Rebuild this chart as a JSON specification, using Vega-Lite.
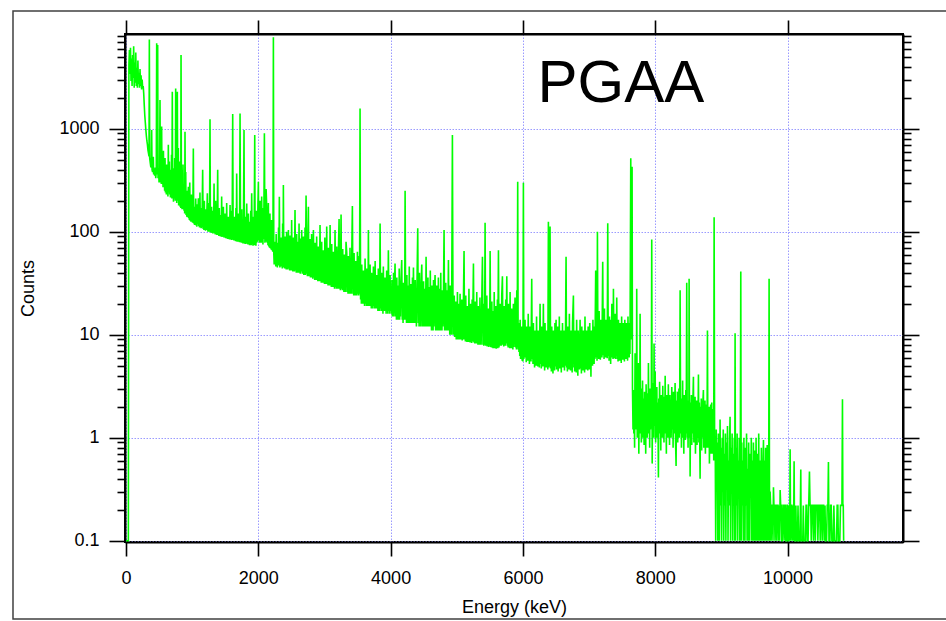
{
"$schema": "https://vega.github.io/schema/vega-lite/v6.json",
"width": 778,
"height": 508,
"autosize": {"type": "none"},
"padding": {"left": 125, "top": 34, "right": 43, "bottom": 79},
"background": "white",
"config": {
  "view": {"stroke": "black", "strokeWidth": 2},
  "axis": {
    "labelFont": "Liberation Sans", "titleFont": "Liberation Sans",
    "labelFontSize": 18, "titleFontSize": 18, "titleFontWeight": "normal",
    "labelColor": "black", "titleColor": "black",
    "tickColor": "black", "tickWidth": 1.6,
    "domainColor": "black", "domainWidth": 2,
    "gridColor": "#9a9aff", "gridDash": [1.5, 1.5], "gridWidth": 1,
    "labelFlush": false, "labelOverlap": false
  }
},
"resolve": {"axis": {"x": "independent", "y": "independent"}},
"layer": [
  {
    "data": {"values": [
{"e":0,"c":0.1},{"e":36,"c":0.1},{"e":44,"c":4200},{"e":52,"c":5800},{"e":60,"c":3400},{"e":68,"c":6100},{"e":76,"c":2900},{"e":84,"c":4800},{"e":92,"c":2600},{"e":100,"c":5200},{"e":108,"c":3100},{"e":116,"c":6300},{"e":124,"c":2500},{"e":132,"c":4400},{"e":140,"c":2800},{"e":148,"c":5500},{"e":156,"c":2600},{"e":164,"c":3900},{"e":172,"c":2500},{"e":180,"c":4600},{"e":188,"c":2700},{"e":196,"c":3500},{"e":204,"c":2500},{"e":212,"c":3800},{"e":220,"c":2600},{"e":228,"c":3300},{"e":236,"c":2400},{"e":244,"c":3000},{"e":252,"c":2500},{"e":260,"c":2600},{"e":268,"c":2200},{"e":276,"c":1700},{"e":284,"c":1350},{"e":292,"c":1150},{"e":300,"c":980},{"e":308,"c":850},{"e":316,"c":760},{"e":324,"c":700},{"e":332,"c":620},{"e":340,"c":580},{"e":348,"c":540},{"e":353,"c":7360},{"e":358,"c":520},{"e":366,"c":470},{"e":374,"c":430},{"e":382,"c":420},{"e":388,"c":970},{"e":394,"c":400},{"e":402,"c":380},{"e":410,"c":420},{"e":413,"c":535},{"e":418,"c":360},{"e":426,"c":400},{"e":434,"c":350},{"e":442,"c":420},{"e":450,"c":330},{"e":458,"c":390},{"e":464,"c":6740},{"e":470,"c":360},{"e":476,"c":420},{"e":479,"c":6490},{"e":484,"c":330},{"e":492,"c":400},{"e":500,"c":300},{"e":508,"c":380},{"e":514,"c":1900},{"e":520,"c":300},{"e":528,"c":350},{"e":534,"c":290},{"e":539,"c":1050},
{"e":544,"c":300},{"e":552,"c":420},{"e":560,"c":270},{"e":566,"c":610},{"e":572,"c":300},{"e":578,"c":380},{"e":584,"c":250},{"e":590,"c":520},{"e":596,"c":240},{"e":604,"c":350},{"e":610,"c":230},{"e":616,"c":450},{"e":622,"c":260},{"e":628,"c":330},{"e":634,"c":220},{"e":640,"c":700},{"e":646,"c":240},{"e":650,"c":320},{"e":655,"c":480},{"e":660,"c":230},{"e":665,"c":400},{"e":672,"c":215},{"e":678,"c":330},{"e":684,"c":250},{"e":688,"c":560},{"e":694,"c":210},{"e":700,"c":2290},{"e":706,"c":220},{"e":712,"c":340},{"e":718,"c":195},{"e":726,"c":412},{"e":732,"c":210},{"e":736,"c":520},{"e":741,"c":230},{"e":746,"c":200},{"e":751,"c":2460},{"e":756,"c":220},{"e":762,"c":600},{"e":767,"c":190},{"e":771,"c":300},{"e":776,"c":2290},{"e":782,"c":200},{"e":786,"c":330},{"e":791,"c":650},{"e":796,"c":180},{"e":801,"c":383},{"e":808,"c":190},{"e":812,"c":480},{"e":818,"c":175},{"e":824,"c":260},{"e":828,"c":170},{"e":832,"c":5190},{"e":838,"c":180},{"e":842,"c":300},{"e":847,"c":165},{"e":852,"c":400},{"e":858,"c":170},{"e":862,"c":450},{"e":867,"c":165},{"e":872,"c":240},{"e":877,"c":160},{"e":882,"c":260},{"e":887,"c":150},{"e":892,"c":935},{"e":898,"c":150},{"e":903,"c":380},{"e":908,"c":145},{"e":914,"c":210},{"e":919,"c":140},{"e":924,"c":250},{"e":930,"c":138},{"e":936,"c":200},{"e":943,"c":273},{"e":948,"c":135},{"e":953,"c":210},{"e":958,"c":130},{"e":964,"c":300},{"e":970,"c":128},{"e":976,"c":180},{"e":982,"c":125},{"e":988,"c":230},{"e":994,"c":128},{"e":1000,"c":170},{"e":1006,"c":122},{"e":1012,"c":190},{"e":1018,"c":644},
{"e":1024,"c":120},{"e":1030,"c":175},{"e":1036,"c":116},{"e":1042,"c":150},{"e":1048,"c":122},{"e":1054,"c":210},{"e":1060,"c":115},{"e":1066,"c":160},{"e":1072,"c":112},{"e":1078,"c":185},{"e":1084,"c":118},{"e":1094,"c":211},{"e":1100,"c":113},{"e":1106,"c":150},{"e":1112,"c":110},{"e":1118,"c":240},{"e":1124,"c":112},{"e":1130,"c":145},{"e":1136,"c":108},{"e":1142,"c":170},{"e":1148,"c":110},{"e":1159,"c":400},{"e":1166,"c":106},{"e":1172,"c":150},{"e":1178,"c":104},{"e":1184,"c":200},{"e":1190,"c":108},{"e":1196,"c":140},{"e":1202,"c":102},{"e":1208,"c":165},{"e":1214,"c":104},{"e":1220,"c":135},{"e":1230,"c":236},{"e":1238,"c":100},{"e":1244,"c":150},{"e":1250,"c":103},{"e":1256,"c":190},{"e":1262,"c":100},{"e":1270,"c":1233},{"e":1276,"c":98},{"e":1282,"c":140},{"e":1288,"c":100},{"e":1294,"c":175},{"e":1300,"c":97},{"e":1306,"c":130},{"e":1312,"c":96},{"e":1318,"c":160},{"e":1324,"c":99},{"e":1331,"c":294},{"e":1338,"c":96},{"e":1344,"c":130},{"e":1350,"c":94},{"e":1356,"c":200},{"e":1362,"c":96},{"e":1368,"c":128},{"e":1374,"c":93},{"e":1380,"c":150},{"e":1386,"c":400},{"e":1392,"c":93},{"e":1398,"c":125},{"e":1404,"c":91},{"e":1410,"c":170},{"e":1416,"c":92},{"e":1422,"c":120},{"e":1428,"c":90},{"e":1434,"c":145},{"e":1440,"c":92},{"e":1446,"c":220},{"e":1452,"c":89},{"e":1458,"c":125},{"e":1464,"c":90},{"e":1472,"c":175},{"e":1480,"c":88},{"e":1486,"c":120},{"e":1492,"c":89},{"e":1498,"c":150},{"e":1504,"c":87},{"e":1510,"c":118},{"e":1516,"c":86},{"e":1522,"c":190},{"e":1528,"c":88},{"e":1534,"c":115},{"e":1540,"c":85},{"e":1546,"c":140},{"e":1552,"c":86},{"e":1558,"c":120},{"e":1564,"c":84},{"e":1573,"c":182},{"e":1580,"c":85},{"e":1586,"c":115},{"e":1592,"c":83},{"e":1598,"c":160},{"e":1604,"c":84},{"e":1613,"c":1387},{"e":1620,"c":83},{"e":1626,"c":118},{"e":1632,"c":82},{"e":1638,"c":140},{"e":1644,"c":83},{"e":1650,"c":112},{"e":1656,"c":81},{"e":1662,"c":170},{"e":1668,"c":82},{"e":1673,"c":368},{"e":1680,"c":80},{"e":1686,"c":110},{"e":1692,"c":81},{"e":1698,"c":150},{"e":1704,"c":80},{"e":1710,"c":108},{"e":1716,"c":79},{"e":1724,"c":1408},{"e":1732,"c":79},{"e":1738,"c":112},{"e":1744,"c":78},{"e":1750,"c":165},{"e":1756,"c":79},{"e":1762,"c":106},{"e":1768,"c":77},{"e":1776,"c":130},{"e":1784,"c":970},{"e":1790,"c":77},{"e":1796,"c":104},{"e":1802,"c":76},{"e":1808,"c":140},{"e":1814,"c":77},{"e":1825,"c":188},{"e":1832,"c":76},{"e":1838,"c":105},{"e":1844,"c":75},{"e":1850,"c":150},{"e":1856,"c":76},{"e":1862,"c":102},{"e":1868,"c":74},{"e":1874,"c":125},{"e":1880,"c":75},{"e":1886,"c":160},{"e":1892,"c":74},{"e":1900,"c":236},{"e":1908,"c":75},{"e":1914,"c":100},{"e":1920,"c":73},{"e":1926,"c":140},{"e":1932,"c":74},{"e":1938,"c":105},{"e":1946,"c":869},{"e":1952,"c":74},{"e":1958,"c":110},{"e":1964,"c":73},{"e":1970,"c":160},{"e":1976,"c":78},{"e":1982,"c":120},{"e":1988,"c":80},{"e":1994,"c":180},{"e":2001,"c":305},{"e":2008,"c":82},{"e":2014,"c":130},{"e":2020,"c":78},{"e":2026,"c":200},{"e":2032,"c":84},{"e":2038,"c":125},{"e":2044,"c":78},{"e":2051,"c":219},{"e":2058,"c":80},{"e":2064,"c":135},{"e":2070,"c":75},{"e":2076,"c":170},{"e":2082,"c":85},{"e":2092,"c":902},{"e":2100,"c":78},{"e":2106,"c":150},{"e":2112,"c":80},{"e":2118,"c":260},{"e":2127,"c":175},{"e":2134,"c":78},{"e":2140,"c":130},{"e":2146,"c":74},{"e":2152,"c":190},{"e":2158,"c":72},{"e":2164,"c":120},{"e":2170,"c":70},{"e":2176,"c":150},{"e":2182,"c":69},{"e":2188,"c":110},{"e":2194,"c":67},{"e":2200,"c":130},{"e":2206,"c":66},{"e":2212,"c":100},{"e":2218,"c":64},{"e":2222,"c":90},{"e":2228,"c":7710},
{"e":2234,"c":62},{"e":2240,"c":48},{"e":2246,"c":80},{"e":2252,"c":50},{"e":2258,"c":66},{"e":2264,"c":46},{"e":2270,"c":95},{"e":2276,"c":49},{"e":2282,"c":72},{"e":2288,"c":45},{"e":2294,"c":78},{"e":2300,"c":48},{"e":2306,"c":110},{"e":2312,"c":47},{"e":2318,"c":219},{"e":2326,"c":45},{"e":2332,"c":70},{"e":2338,"c":48},{"e":2344,"c":88},{"e":2350,"c":46},{"e":2356,"c":74},{"e":2362,"c":44},{"e":2368,"c":120},{"e":2374,"c":47},{"e":2379,"c":284},{"e":2386,"c":45},{"e":2392,"c":72},{"e":2398,"c":44},{"e":2404,"c":90},{"e":2410,"c":46},{"e":2416,"c":70},{"e":2422,"c":43},{"e":2428,"c":100},{"e":2434,"c":45},{"e":2440,"c":68},{"e":2446,"c":43},{"e":2455,"c":104},{"e":2462,"c":44},{"e":2468,"c":76},{"e":2474,"c":42},{"e":2480,"c":92},{"e":2486,"c":45},{"e":2492,"c":66},{"e":2498,"c":42},{"e":2504,"c":130},{"e":2510,"c":44},{"e":2516,"c":74},{"e":2522,"c":41},{"e":2528,"c":88},{"e":2534,"c":43},{"e":2540,"c":66},{"e":2546,"c":41},{"e":2555,"c":162},{"e":2562,"c":42},{"e":2568,"c":70},{"e":2574,"c":40},{"e":2580,"c":95},{"e":2586,"c":43},{"e":2592,"c":66},{"e":2598,"c":40},{"e":2604,"c":80},{"e":2610,"c":41},{"e":2616,"c":120},{"e":2622,"c":40},{"e":2628,"c":68},{"e":2634,"c":39},{"e":2640,"c":86},{"e":2646,"c":41},{"e":2656,"c":104},{"e":2664,"c":39},{"e":2670,"c":64},{"e":2676,"c":40},{"e":2682,"c":90},{"e":2688,"c":38},{"e":2694,"c":66},{"e":2700,"c":39},{"e":2706,"c":110},{"e":2712,"c":38},{"e":2722,"c":224},{"e":2730,"c":39},{"e":2736,"c":64},{"e":2742,"c":37},{"e":2748,"c":80},{"e":2757,"c":175},{"e":2764,"c":37},{"e":2770,"c":62},{"e":2776,"c":38},{"e":2782,"c":85},{"e":2788,"c":36},{"e":2794,"c":60},{"e":2800,"c":37},{"e":2806,"c":95},{"e":2812,"c":36},{"e":2818,"c":62},{"e":2824,"c":35},{"e":2833,"c":104},{"e":2840,"c":36},{"e":2846,"c":60},{"e":2852,"c":34},{"e":2858,"c":78},{"e":2864,"c":35},{"e":2870,"c":58},{"e":2876,"c":34},{"e":2882,"c":90},{"e":2888,"c":35},{"e":2894,"c":60},{"e":2900,"c":33},{"e":2906,"c":72},{"e":2912,"c":34},{"e":2918,"c":58},{"e":2924,"c":33},{"e":2933,"c":116},{"e":2940,"c":33},{"e":2946,"c":56},{"e":2952,"c":32},{"e":2958,"c":80},{"e":2964,"c":34},{"e":2970,"c":56},{"e":2976,"c":32},{"e":2982,"c":66},{"e":2988,"c":33},{"e":2994,"c":55},{"e":3000,"c":31},{"e":3006,"c":88},{"e":3012,"c":32},{"e":3018,"c":56},{"e":3024,"c":31},{"e":3034,"c":112},{"e":3042,"c":31},{"e":3048,"c":54},{"e":3054,"c":30},{"e":3060,"c":70},{"e":3066,"c":32},{"e":3072,"c":54},{"e":3078,"c":30},{"e":3085,"c":116},{"e":3092,"c":30},{"e":3098,"c":52},{"e":3104,"c":29},{"e":3110,"c":76},{"e":3116,"c":31},{"e":3122,"c":53},{"e":3128,"c":29},{"e":3134,"c":64},{"e":3140,"c":30},{"e":3146,"c":52},{"e":3152,"c":28},{"e":3160,"c":104},{"e":3168,"c":29},{"e":3174,"c":52},{"e":3180,"c":28},{"e":3186,"c":72},{"e":3192,"c":29},{"e":3198,"c":50},{"e":3204,"c":28},{"e":3210,"c":60},{"e":3221,"c":133},{"e":3228,"c":28},{"e":3234,"c":52},{"e":3240,"c":27},{"e":3251,"c":147},{"e":3258,"c":28},{"e":3264,"c":50},{"e":3270,"c":27},{"e":3276,"c":68},{"e":3282,"c":28},{"e":3288,"c":49},{"e":3294,"c":26},{"e":3300,"c":60},{"e":3306,"c":27},{"e":3312,"c":48},{"e":3318,"c":26},{"e":3326,"c":80},{"e":3337,"c":62},{"e":3344,"c":26},{"e":3350,"c":47},{"e":3356,"c":25},{"e":3362,"c":58},{"e":3368,"c":27},{"e":3374,"c":46},{"e":3380,"c":25},{"e":3386,"c":70},{"e":3392,"c":26},{"e":3398,"c":46},{"e":3404,"c":25},{"e":3412,"c":55},{"e":3422,"c":178},{"e":3430,"c":25},{"e":3436,"c":46},{"e":3442,"c":24},{"e":3448,"c":62},{"e":3454,"c":26},{"e":3460,"c":45},{"e":3466,"c":24},{"e":3472,"c":52},{"e":3478,"c":25},{"e":3484,"c":44},{"e":3490,"c":24},{"e":3498,"c":64},{"e":3506,"c":25},{"e":3512,"c":44},{"e":3518,"c":24},{"e":3524,"c":58},{"e":3530,"c":25},{"e":3538,"c":1575},
{"e":3546,"c":22},{"e":3552,"c":36},{"e":3558,"c":20},{"e":3564,"c":48},{"e":3570,"c":22},{"e":3576,"c":36},{"e":3582,"c":20},{"e":3588,"c":42},{"e":3594,"c":21},{"e":3600,"c":35},{"e":3606,"c":19},{"e":3614,"c":55},{"e":3622,"c":20},{"e":3628,"c":36},{"e":3634,"c":19},{"e":3640,"c":44},{"e":3646,"c":21},{"e":3652,"c":34},{"e":3658,"c":19},{"e":3664,"c":104},{"e":3672,"c":19},{"e":3678,"c":35},{"e":3684,"c":20},{"e":3690,"c":48},{"e":3696,"c":19},{"e":3702,"c":34},{"e":3708,"c":18},{"e":3714,"c":40},{"e":3720,"c":20},{"e":3726,"c":33},{"e":3732,"c":18},{"e":3740,"c":46},{"e":3748,"c":19},{"e":3754,"c":34},{"e":3760,"c":18},{"e":3766,"c":52},{"e":3772,"c":19},{"e":3778,"c":33},{"e":3784,"c":18},{"e":3790,"c":38},{"e":3796,"c":19},{"e":3802,"c":32},{"e":3808,"c":17},{"e":3814,"c":44},{"e":3820,"c":19},{"e":3826,"c":33},{"e":3832,"c":17},{"e":3841,"c":120},{"e":3848,"c":18},{"e":3854,"c":33},{"e":3860,"c":17},{"e":3866,"c":40},{"e":3872,"c":18},{"e":3878,"c":32},{"e":3884,"c":16},{"e":3890,"c":46},{"e":3896,"c":18},{"e":3902,"c":31},{"e":3908,"c":17},{"e":3914,"c":36},{"e":3920,"c":18},{"e":3926,"c":31},{"e":3932,"c":16},{"e":3940,"c":42},{"e":3946,"c":17},{"e":3952,"c":30},{"e":3958,"c":16},{"e":3966,"c":66},{"e":3974,"c":17},{"e":3980,"c":31},{"e":3986,"c":16},{"e":3992,"c":38},{"e":4000,"c":17},
{"e":4008,"c":29},{"e":4014,"c":16},{"e":4020,"c":34},{"e":4026,"c":15},{"e":4032,"c":27},{"e":4038,"c":16},{"e":4044,"c":40},{"e":4050,"c":15},{"e":4056,"c":26},{"e":4067,"c":49},{"e":4076,"c":15},{"e":4082,"c":28},{"e":4088,"c":14},{"e":4094,"c":36},{"e":4100,"c":15},{"e":4106,"c":26},{"e":4112,"c":14},{"e":4118,"c":30},{"e":4124,"c":15},{"e":4130,"c":44},{"e":4136,"c":14},{"e":4142,"c":27},{"e":4148,"c":15},{"e":4156,"c":33},{"e":4168,"c":53},{"e":4176,"c":14},{"e":4182,"c":26},{"e":4188,"c":13},{"e":4194,"c":32},{"e":4200,"c":15},{"e":4206,"c":25},{"e":4212,"c":14},{"e":4219,"c":250},{"e":4228,"c":14},{"e":4234,"c":27},{"e":4240,"c":13},{"e":4246,"c":38},{"e":4252,"c":14},{"e":4258,"c":25},{"e":4264,"c":13},{"e":4270,"c":30},{"e":4276,"c":14},{"e":4282,"c":46},{"e":4288,"c":13},{"e":4294,"c":26},{"e":4300,"c":14},{"e":4306,"c":31},{"e":4312,"c":13},{"e":4318,"c":24},{"e":4324,"c":14},{"e":4330,"c":36},{"e":4336,"c":13},{"e":4345,"c":45},{"e":4354,"c":13},{"e":4360,"c":25},{"e":4366,"c":14},{"e":4372,"c":34},{"e":4378,"c":13},{"e":4384,"c":24},{"e":4390,"c":12},{"e":4398,"c":29},{"e":4410,"c":108},{"e":4418,"c":13},{"e":4424,"c":25},{"e":4430,"c":12},{"e":4436,"c":40},{"e":4442,"c":13},{"e":4448,"c":24},{"e":4454,"c":12},{"e":4460,"c":30},{"e":4471,"c":48},{"e":4480,"c":12},{"e":4486,"c":24},{"e":4492,"c":13},{"e":4498,"c":33},{"e":4504,"c":12},{"e":4510,"c":23},{"e":4516,"c":13},{"e":4522,"c":28},{"e":4528,"c":12},{"e":4536,"c":57},{"e":4546,"c":12},{"e":4552,"c":24},{"e":4558,"c":12},{"e":4564,"c":36},{"e":4570,"c":13},{"e":4576,"c":23},{"e":4582,"c":12},{"e":4588,"c":29},{"e":4594,"c":12},{"e":4600,"c":42},{"e":4606,"c":12},{"e":4612,"c":23},{"e":4618,"c":11},{"e":4624,"c":30},{"e":4630,"c":12},{"e":4636,"c":24},{"e":4642,"c":11},{"e":4648,"c":34},{"e":4654,"c":12},{"e":4660,"c":23},{"e":4672,"c":38},{"e":4680,"c":11},{"e":4686,"c":24},{"e":4692,"c":12},{"e":4698,"c":30},{"e":4704,"c":11},{"e":4710,"c":23},{"e":4716,"c":12},{"e":4722,"c":36},{"e":4728,"c":11},{"e":4734,"c":22},{"e":4740,"c":12},{"e":4746,"c":28},{"e":4752,"c":11},{"e":4758,"c":40},{"e":4764,"c":12},{"e":4770,"c":22},{"e":4776,"c":11},{"e":4782,"c":27},{"e":4790,"c":12},{"e":4798,"c":22},{"e":4808,"c":104},{"e":4816,"c":11},{"e":4822,"c":23},{"e":4828,"c":11},{"e":4834,"c":32},{"e":4840,"c":11},{"e":4846,"c":22},{"e":4852,"c":12},{"e":4858,"c":27},{"e":4864,"c":11},{"e":4874,"c":53},{"e":4882,"c":11},{"e":4888,"c":22},{"e":4894,"c":10},{"e":4900,"c":30},{"e":4906,"c":11},{"e":4912,"c":21},{"e":4918,"c":10},{"e":4924,"c":26},{"e":4934,"c":869},{"e":4944,"c":10},
{"e":4950,"c":19},{"e":4956,"c":10},{"e":4962,"c":24},{"e":4968,"c":9.5},{"e":4974,"c":18},{"e":4980,"c":10},{"e":4986,"c":21},{"e":4992,"c":9},{"e":4998,"c":17},{"e":5004,"c":9.5},{"e":5010,"c":26},{"e":5016,"c":9},{"e":5022,"c":18},{"e":5028,"c":9.5},{"e":5034,"c":20},{"e":5040,"c":9},{"e":5050,"c":25},{"e":5058,"c":9},{"e":5064,"c":17},{"e":5070,"c":9.5},{"e":5076,"c":22},{"e":5082,"c":8.8},{"e":5088,"c":17},{"e":5094,"c":9},{"e":5100,"c":20},{"e":5110,"c":65},{"e":5118,"c":9},{"e":5124,"c":17},{"e":5130,"c":8.6},{"e":5136,"c":24},{"e":5142,"c":9},{"e":5148,"c":16},{"e":5154,"c":8.5},{"e":5160,"c":19},{"e":5166,"c":9},{"e":5172,"c":16},{"e":5178,"c":8.5},{"e":5184,"c":28},{"e":5190,"c":8.8},{"e":5196,"c":16},{"e":5202,"c":8.4},{"e":5208,"c":20},{"e":5214,"c":9},{"e":5220,"c":16},{"e":5226,"c":8.3},{"e":5232,"c":22},{"e":5238,"c":8.6},{"e":5252,"c":49},{"e":5260,"c":8.4},{"e":5266,"c":16},{"e":5272,"c":8.2},{"e":5278,"c":21},{"e":5284,"c":8.6},{"e":5290,"c":15},{"e":5296,"c":8.2},{"e":5302,"c":26},{"e":5308,"c":8.4},{"e":5314,"c":15},{"e":5320,"c":8},{"e":5326,"c":19},{"e":5332,"c":8.5},{"e":5338,"c":15},{"e":5344,"c":8},{"e":5350,"c":23},{"e":5356,"c":8.3},{"e":5362,"c":15},{"e":5368,"c":8},{"e":5376,"c":18},{"e":5388,"c":57},{"e":5396,"c":8},{"e":5402,"c":15},{"e":5408,"c":7.8},{"e":5414,"c":20},{"e":5420,"c":8},{"e":5428,"c":122},{"e":5436,"c":7.8},{"e":5442,"c":15},{"e":5448,"c":8},{"e":5454,"c":24},{"e":5460,"c":7.7},{"e":5466,"c":15},{"e":5472,"c":8},{"e":5478,"c":18},{"e":5484,"c":7.6},{"e":5490,"c":15},{"e":5496,"c":7.8},{"e":5504,"c":65},{"e":5512,"c":7.6},{"e":5518,"c":15},{"e":5524,"c":7.5},{"e":5530,"c":21},{"e":5536,"c":7.8},{"e":5542,"c":14},{"e":5548,"c":7.4},{"e":5554,"c":17},{"e":5560,"c":7.6},{"e":5566,"c":26},{"e":5572,"c":7.4},{"e":5578,"c":14},{"e":5584,"c":7.5},{"e":5590,"c":19},{"e":5596,"c":7.3},{"e":5602,"c":14},{"e":5608,"c":7.6},{"e":5614,"c":22},{"e":5620,"c":7.4},{"e":5630,"c":66},{"e":5638,"c":7.5},{"e":5644,"c":15},{"e":5650,"c":7.8},{"e":5656,"c":20},{"e":5662,"c":8},{"e":5668,"c":16},{"e":5674,"c":7.8},{"e":5680,"c":24},{"e":5690,"c":37},{"e":5698,"c":8},{"e":5704,"c":16},{"e":5710,"c":7.7},{"e":5716,"c":19},{"e":5722,"c":8},{"e":5728,"c":15},{"e":5734,"c":7.8},{"e":5740,"c":22},{"e":5746,"c":8.2},{"e":5756,"c":37},{"e":5764,"c":7.8},{"e":5770,"c":15},{"e":5776,"c":7.5},{"e":5782,"c":20},{"e":5788,"c":7.8},{"e":5794,"c":16},{"e":5800,"c":7.4},{"e":5806,"c":26},{"e":5812,"c":7.8},{"e":5818,"c":15},{"e":5824,"c":7.4},{"e":5830,"c":18},{"e":5836,"c":7.6},{"e":5842,"c":14},{"e":5848,"c":7.2},{"e":5856,"c":20},{"e":5864,"c":7.6},{"e":5872,"c":14},{"e":5881,"c":23},{"e":5890,"c":7.5},{"e":5896,"c":14},{"e":5902,"c":7.2},{"e":5907,"c":27},{"e":5914,"c":7.5},{"e":5921,"c":306},{"e":5928,"c":7.2},{"e":5934,"c":13},{"e":5940,"c":6.8},{"e":5946,"c":12},{"e":5952,"c":6.2},{"e":5958,"c":14},{"e":5964,"c":5.8},{"e":5970,"c":10},{"e":5976,"c":6},{"e":5982,"c":12},{"e":5988,"c":5.6},{"e":5994,"c":10},{"e":6000,"c":5.5},{"e":6007,"c":299},
{"e":6014,"c":5.8},{"e":6020,"c":11},{"e":6026,"c":6.4},{"e":6032,"c":14},{"e":6038,"c":6},{"e":6044,"c":10},{"e":6050,"c":5.4},{"e":6056,"c":12},{"e":6062,"c":6.2},{"e":6068,"c":9.5},{"e":6074,"c":5.6},{"e":6080,"c":16},{"e":6086,"c":6},{"e":6092,"c":10},{"e":6098,"c":5.2},{"e":6104,"c":12},{"e":6110,"c":6},{"e":6116,"c":9},{"e":6122,"c":5.5},{"e":6133,"c":35},{"e":6140,"c":5.8},{"e":6146,"c":10},{"e":6152,"c":5.2},{"e":6158,"c":13},{"e":6164,"c":5.6},{"e":6170,"c":9},{"e":6176,"c":4.8},{"e":6182,"c":11},{"e":6188,"c":5.6},{"e":6194,"c":9.5},{"e":6200,"c":5},{"e":6206,"c":15},{"e":6212,"c":5.4},{"e":6218,"c":9},{"e":6224,"c":4.9},{"e":6230,"c":11},{"e":6236,"c":5.5},{"e":6242,"c":9},{"e":6248,"c":4.8},{"e":6259,"c":20},{"e":6266,"c":5.2},{"e":6272,"c":9.5},{"e":6278,"c":4.7},{"e":6284,"c":12},{"e":6290,"c":5.3},{"e":6296,"c":9},{"e":6302,"c":4.9},{"e":6309,"c":20},{"e":6316,"c":5},{"e":6322,"c":10},{"e":6328,"c":4.5},{"e":6334,"c":13},{"e":6340,"c":5.2},{"e":6346,"c":9},{"e":6352,"c":4.8},{"e":6358,"c":11},{"e":6364,"c":5.3},{"e":6370,"c":9},{"e":6376,"c":4.6},{"e":6385,"c":125},{"e":6392,"c":4.8},{"e":6398,"c":10},{"e":6404,"c":5},{"e":6410,"c":112},{"e":6418,"c":4.7},{"e":6424,"c":9},{"e":6430,"c":4.4},{"e":6436,"c":12},{"e":6442,"c":5},{"e":6448,"c":9},{"e":6454,"c":4.2},{"e":6460,"c":11},{"e":6466,"c":5},{"e":6472,"c":9.5},{"e":6478,"c":4.5},{"e":6484,"c":13},{"e":6490,"c":4.9},{"e":6501,"c":14},{"e":6508,"c":4.6},{"e":6514,"c":9},{"e":6520,"c":5},{"e":6526,"c":12},{"e":6532,"c":4.4},{"e":6538,"c":9.5},{"e":6544,"c":5.1},{"e":6550,"c":15},{"e":6556,"c":4.7},{"e":6562,"c":9},{"e":6568,"c":5},{"e":6574,"c":11},{"e":6580,"c":4.3},{"e":6586,"c":10},{"e":6592,"c":5},{"e":6598,"c":13},{"e":6604,"c":4.8},{"e":6610,"c":9.5},{"e":6616,"c":5.2},{"e":6622,"c":11},{"e":6628,"c":4.5},{"e":6634,"c":9},{"e":6640,"c":5},{"e":6652,"c":57},{"e":6660,"c":4.8},{"e":6666,"c":10},{"e":6672,"c":4.4},{"e":6678,"c":12},{"e":6684,"c":5},{"e":6690,"c":9},{"e":6696,"c":4.6},{"e":6702,"c":16},{"e":6708,"c":5},{"e":6714,"c":9.5},{"e":6720,"c":4.5},{"e":6726,"c":11},{"e":6732,"c":5.1},{"e":6738,"c":9},{"e":6744,"c":4.3},{"e":6750,"c":13},{"e":6763,"c":24},{"e":6770,"c":4.8},{"e":6776,"c":9.5},{"e":6782,"c":4.4},{"e":6788,"c":11},{"e":6794,"c":5},{"e":6800,"c":9},{"e":6806,"c":4.3},{"e":6812,"c":14},{"e":6818,"c":4.9},{"e":6824,"c":9},{"e":6830,"c":4},{"e":6836,"c":11},{"e":6842,"c":5},{"e":6848,"c":9.5},{"e":6854,"c":4.6},{"e":6864,"c":14},{"e":6872,"c":4.7},{"e":6878,"c":9.5},{"e":6884,"c":4.2},{"e":6890,"c":12},{"e":6896,"c":5},{"e":6902,"c":9},{"e":6908,"c":4.5},{"e":6914,"c":11},{"e":6920,"c":5},{"e":6926,"c":9.5},{"e":6932,"c":4.3},{"e":6938,"c":15},{"e":6944,"c":4.9},{"e":6950,"c":9.5},{"e":6956,"c":4.6},{"e":6962,"c":11},{"e":6968,"c":5},{"e":6974,"c":9},{"e":6980,"c":4.5},{"e":6986,"c":12},{"e":6992,"c":5.2},{"e":6998,"c":10},{"e":7004,"c":4.6},{"e":7010,"c":13},{"e":7016,"c":5.3},{"e":7022,"c":10},{"e":7028,"c":3.9},{"e":7034,"c":11},{"e":7040,"c":5.4},{"e":7046,"c":10},{"e":7052,"c":5},{"e":7058,"c":14},{"e":7064,"c":5.6},{"e":7070,"c":11},{"e":7076,"c":5.2},{"e":7082,"c":12},{"e":7088,"c":5.8},{"e":7094,"c":16},{"e":7100,"c":42},{"e":7108,"c":6},{"e":7114,"c":12},{"e":7120,"c":5.6},{"e":7126,"c":100},{"e":7134,"c":6},{"e":7140,"c":13},{"e":7146,"c":5.8},{"e":7152,"c":17},{"e":7158,"c":6.4},{"e":7164,"c":12},{"e":7170,"c":5.7},{"e":7176,"c":14},{"e":7182,"c":6.5},{"e":7188,"c":12},{"e":7194,"c":6},{"e":7206,"c":51},{"e":7214,"c":6.3},{"e":7220,"c":13},{"e":7226,"c":5.8},{"e":7232,"c":18},{"e":7238,"c":6.5},{"e":7244,"c":12},{"e":7250,"c":6},{"e":7256,"c":14},{"e":7262,"c":6.6},{"e":7268,"c":12},{"e":7274,"c":5.9},{"e":7282,"c":121},{"e":7290,"c":6.2},{"e":7296,"c":13},{"e":7302,"c":5.6},{"e":7308,"c":15},{"e":7314,"c":6.3},{"e":7320,"c":12},{"e":7326,"c":5.2},{"e":7332,"c":14},{"e":7338,"c":6.2},{"e":7344,"c":20},{"e":7350,"c":6},{"e":7356,"c":12},{"e":7362,"c":5.8},{"e":7368,"c":28},{"e":7376,"c":5.9},{"e":7382,"c":12},{"e":7388,"c":6.3},{"e":7394,"c":16},{"e":7400,"c":5.8},{"e":7406,"c":12},{"e":7412,"c":6.2},{"e":7418,"c":23},{"e":7426,"c":5.8},{"e":7432,"c":12},{"e":7438,"c":5.5},{"e":7444,"c":14},{"e":7450,"c":6.2},{"e":7456,"c":11},{"e":7462,"c":5.6},{"e":7468,"c":13},{"e":7474,"c":6.1},{"e":7480,"c":11},{"e":7486,"c":5.3},{"e":7492,"c":15},{"e":7498,"c":6},{"e":7504,"c":11},{"e":7510,"c":5.7},{"e":7516,"c":13},{"e":7522,"c":6.2},{"e":7528,"c":11},{"e":7534,"c":5.5},{"e":7540,"c":14},{"e":7546,"c":6},{"e":7552,"c":11},{"e":7558,"c":5.8},{"e":7564,"c":13},{"e":7570,"c":6.3},{"e":7576,"c":11},{"e":7582,"c":5.6},{"e":7588,"c":15},{"e":7594,"c":6.2},{"e":7600,"c":11},{"e":7606,"c":6},{"e":7612,"c":13},{"e":7618,"c":6.5},{"e":7630,"c":516},{"e":7636,"c":9},{"e":7644,"c":12},{"e":7650,"c":428},{"e":7656,"c":3},{"e":7664,"c":1.2},
{"e":7670,"c":2.9},{"e":7676,"c":1.1},{"e":7682,"c":2.4},{"e":7688,"c":0.8},{"e":7695,"c":6.6},{"e":7702,"c":1.4},{"e":7708,"c":3.2},{"e":7714,"c":1.2},{"e":7720,"c":28},{"e":7728,"c":1.0},{"e":7734,"c":2.6},{"e":7740,"c":1.5},{"e":7745,"c":5.3},{"e":7752,"c":0.7},{"e":7758,"c":2.5},{"e":7764,"c":1.3},{"e":7771,"c":16},{"e":7778,"c":1.1},{"e":7784,"c":3.0},{"e":7790,"c":0.9},{"e":7796,"c":2.2},{"e":7802,"c":1.4},{"e":7808,"c":3.6},{"e":7814,"c":1.0},{"e":7820,"c":2.4},{"e":7826,"c":1.3},{"e":7832,"c":0.85},{"e":7838,"c":2.8},{"e":7844,"c":1.2},{"e":7850,"c":2.2},{"e":7856,"c":0.7},{"e":7862,"c":3.3},{"e":7868,"c":1.3},{"e":7874,"c":2.4},{"e":7880,"c":1.0},{"e":7886,"c":2.7},{"e":7892,"c":1.4},{"e":7897,"c":5.3},{"e":7904,"c":1.1},{"e":7910,"c":2.3},{"e":7916,"c":0.8},{"e":7922,"c":3.0},{"e":7928,"c":1.2},{"e":7934,"c":2.2},{"e":7940,"c":1.4},{"e":7947,"c":84},{"e":7954,"c":0.56},{"e":7960,"c":2.6},{"e":7966,"c":1.2},{"e":7972,"c":3.4},{"e":7978,"c":1.0},{"e":7982,"c":8.2},{"e":7988,"c":1.3},{"e":7994,"c":2.5},{"e":7999,"c":4.4},{"e":8006,"c":0.9},{"e":8012,"c":2.3},{"e":8018,"c":1.3},{"e":8024,"c":3.1},{"e":8030,"c":1.0},{"e":8036,"c":2.2},{"e":8042,"c":1.4},{"e":8048,"c":0.41},{"e":8054,"c":2.4},{"e":8060,"c":1.1},{"e":8066,"c":3.5},{"e":8072,"c":1.2},{"e":8078,"c":2.2},{"e":8084,"c":0.75},{"e":8090,"c":2.6},{"e":8096,"c":1.3},{"e":8102,"c":2.1},{"e":8108,"c":1.0},{"e":8114,"c":3.2},{"e":8120,"c":1.3},{"e":8126,"c":2.3},{"e":8132,"c":0.9},{"e":8138,"c":2.5},{"e":8144,"c":1.2},{"e":8150,"c":4.0},{"e":8156,"c":1.1},{"e":8162,"c":2.3},{"e":8168,"c":0.7},{"e":8174,"c":2.6},{"e":8180,"c":1.2},{"e":8186,"c":2.1},{"e":8192,"c":1.0},{"e":8198,"c":3.3},{"e":8204,"c":1.3},{"e":8210,"c":2.2},{"e":8216,"c":0.85},{"e":8222,"c":2.6},{"e":8228,"c":1.2},{"e":8234,"c":2.1},{"e":8240,"c":1.0},{"e":8250,"c":3.1},{"e":8258,"c":1.2},{"e":8264,"c":2.2},{"e":8270,"c":0.8},{"e":8276,"c":2.8},{"e":8282,"c":1.1},{"e":8288,"c":2.1},{"e":8294,"c":1.3},{"e":8300,"c":3.4},{"e":8306,"c":1.0},{"e":8315,"c":0.53},{"e":8322,"c":2.3},{"e":8328,"c":1.1},{"e":8334,"c":2.8},{"e":8340,"c":0.9},{"e":8346,"c":2.2},{"e":8352,"c":1.2},{"e":8358,"c":3.0},{"e":8364,"c":1.0},{"e":8370,"c":2.3},{"e":8376,"c":27},{"e":8384,"c":1.1},{"e":8390,"c":2.4},{"e":8396,"c":0.8},{"e":8402,"c":2.1},{"e":8408,"c":1.2},{"e":8414,"c":3.6},{"e":8420,"c":1.0},{"e":8426,"c":2.2},{"e":8432,"c":0.7},{"e":8438,"c":2.6},{"e":8444,"c":1.2},{"e":8450,"c":2.0},{"e":8456,"c":0.95},{"e":8462,"c":2.9},{"e":8468,"c":1.1},{"e":8476,"c":32},{"e":8484,"c":1.0},{"e":8490,"c":2.3},{"e":8496,"c":0.8},{"e":8502,"c":2.1},{"e":8508,"c":1.2},{"e":8512,"c":35},{"e":8518,"c":1.0},{"e":8524,"c":2.2},{"e":8527,"c":0.42},{"e":8534,"c":2.0},{"e":8540,"c":1.1},{"e":8546,"c":2.6},{"e":8552,"c":0.85},{"e":8558,"c":2.0},{"e":8564,"c":1.1},{"e":8570,"c":2.4},{"e":8577,"c":3.9},{"e":8584,"c":0.9},{"e":8590,"c":2.1},{"e":8596,"c":1.0},{"e":8602,"c":2.5},{"e":8608,"c":0.7},{"e":8614,"c":1.9},{"e":8620,"c":1.1},{"e":8626,"c":2.3},{"e":8632,"c":0.85},{"e":8638,"c":2.0},{"e":8644,"c":1.0},{"e":8653,"c":4.1},{"e":8660,"c":0.9},{"e":8666,"c":2.2},{"e":8672,"c":1.0},{"e":8678,"c":0.4},{"e":8684,"c":2.0},{"e":8690,"c":0.9},{"e":8696,"c":2.4},{"e":8702,"c":0.75},{"e":8708,"c":1.8},{"e":8714,"c":1.0},{"e":8720,"c":2.2},{"e":8728,"c":2.9},{"e":8734,"c":0.8},{"e":8740,"c":1.9},{"e":8746,"c":0.9},{"e":8752,"c":2.3},{"e":8758,"c":0.7},{"e":8764,"c":1.8},{"e":8770,"c":1.0},{"e":8776,"c":2.1},{"e":8782,"c":0.8},{"e":8789,"c":11},{"e":8796,"c":0.8},{"e":8802,"c":1.8},{"e":8808,"c":0.9},{"e":8814,"c":2.0},{"e":8819,"c":0.56},{"e":8826,"c":1.7},{"e":8832,"c":0.8},{"e":8838,"c":2.1},{"e":8844,"c":0.7},{"e":8850,"c":1.6},{"e":8854,"c":2.2},{"e":8860,"c":0.7},{"e":8866,"c":1.6},{"e":8872,"c":0.8},{"e":8878,"c":1.9},{"e":8884,"c":0.6},{"e":8890,"c":138},{"e":8898,"c":0.6},{"e":8906,"c":1.0},
{"e":8914,"c":0.1},{"e":8922,"c":1.2},{"e":8930,"c":0.3},{"e":8938,"c":0.9},{"e":8946,"c":0.1},{"e":8954,"c":1.1},{"e":8962,"c":0.45},{"e":8970,"c":0.1},{"e":8980,"c":1.5},{"e":8988,"c":0.22},{"e":8996,"c":0.8},{"e":9004,"c":0.1},{"e":9012,"c":1.0},{"e":9020,"c":0.35},{"e":9028,"c":1.2},{"e":9036,"c":0.1},{"e":9044,"c":0.7},{"e":9052,"c":0.22},{"e":9060,"c":1.1},{"e":9068,"c":0.1},{"e":9076,"c":0.9},{"e":9084,"c":0.4},{"e":9092,"c":1.3},{"e":9100,"c":0.1},{"e":9108,"c":0.6},{"e":9116,"c":0.22},{"e":9124,"c":1.0},{"e":9131,"c":1.6},{"e":9138,"c":0.1},{"e":9146,"c":0.8},{"e":9154,"c":0.3},{"e":9162,"c":1.1},{"e":9170,"c":0.1},{"e":9178,"c":0.7},{"e":9186,"c":0.22},{"e":9194,"c":1.0},{"e":9200,"c":0.1},{"e":9207,"c":10.3},{"e":9214,"c":0.1},{"e":9222,"c":0.8},{"e":9230,"c":0.22},{"e":9238,"c":1.1},{"e":9246,"c":0.1},{"e":9254,"c":0.6},{"e":9262,"c":0.3},{"e":9270,"c":1.0},{"e":9278,"c":0.1},{"e":9286,"c":0.7},{"e":9293,"c":41},{"e":9300,"c":0.1},{"e":9308,"c":0.9},{"e":9316,"c":0.22},{"e":9324,"c":0.6},{"e":9332,"c":0.1},{"e":9340,"c":1.0},{"e":9348,"c":0.3},{"e":9356,"c":0.1},{"e":9364,"c":0.8},{"e":9372,"c":0.22},{"e":9380,"c":1.1},{"e":9388,"c":0.1},{"e":9396,"c":0.5},{"e":9404,"c":0.1},{"e":9412,"c":0.9},{"e":9420,"c":0.22},{"e":9428,"c":0.1},{"e":9436,"c":0.7},{"e":9444,"c":0.3},{"e":9452,"c":1.0},{"e":9460,"c":0.1},{"e":9468,"c":0.6},{"e":9476,"c":0.1},{"e":9484,"c":0.9},{"e":9492,"c":0.22},{"e":9500,"c":0.1},{"e":9508,"c":0.75},{"e":9516,"c":0.1},{"e":9524,"c":1.0},{"e":9532,"c":0.22},{"e":9540,"c":0.1},{"e":9548,"c":0.7},{"e":9556,"c":0.1},{"e":9564,"c":1.1},{"e":9572,"c":0.22},{"e":9580,"c":0.1},{"e":9588,"c":0.6},{"e":9596,"c":0.1},{"e":9604,"c":0.8},{"e":9612,"c":0.22},{"e":9620,"c":0.1},{"e":9628,"c":0.5},{"e":9636,"c":0.95},{"e":9644,"c":0.1},{"e":9652,"c":0.6},{"e":9660,"c":0.1},{"e":9668,"c":0.8},{"e":9676,"c":0.22},{"e":9684,"c":0.1},{"e":9692,"c":0.85},{"e":9700,"c":0.1},{"e":9708,"c":0.6},{"e":9714,"c":0.1},{"e":9721,"c":35},{"e":9728,"c":0.1},{"e":9736,"c":0.3},
{"e":9744,"c":0.22},{"e":9752,"c":0.1},{"e":9760,"c":0.22},{"e":9770,"c":0.22},{"e":9780,"c":0.1},{"e":9787,"c":0.33},{"e":9794,"c":0.22},{"e":9802,"c":0.22},{"e":9810,"c":0.1},{"e":9818,"c":0.22},{"e":9828,"c":0.22},{"e":9836,"c":0.1},{"e":9844,"c":0.22},{"e":9856,"c":0.22},{"e":9864,"c":0.1},{"e":9872,"c":0.22},{"e":9880,"c":0.1},{"e":9888,"c":0.31},{"e":9896,"c":0.22},{"e":9904,"c":0.22},{"e":9912,"c":0.1},{"e":9920,"c":0.1},{"e":9930,"c":0.22},{"e":9940,"c":0.22},{"e":9948,"c":0.1},{"e":9958,"c":0.22},{"e":9966,"c":0.22},{"e":9974,"c":0.1},{"e":9984,"c":0.1},{"e":9992,"c":0.22},{"e":10000,"c":0.22},{"e":10008,"c":0.1},{"e":10016,"c":0.1},{"e":10024,"c":0.22},{"e":10032,"c":0.1},{"e":10039,"c":0.77},{"e":10046,"c":0.1},{"e":10056,"c":0.22},{"e":10064,"c":0.22},{"e":10072,"c":0.1},{"e":10080,"c":0.22},{"e":10090,"c":0.1},{"e":10099,"c":0.59},{"e":10106,"c":0.1},{"e":10118,"c":0.1},{"e":10126,"c":0.22},{"e":10134,"c":0.1},{"e":10150,"c":0.1},{"e":10158,"c":0.22},{"e":10166,"c":0.1},{"e":10186,"c":0.1},{"e":10194,"c":0.22},{"e":10200,"c":0.49},{"e":10206,"c":0.1},{"e":10230,"c":0.1},{"e":10238,"c":0.22},{"e":10246,"c":0.1},{"e":10270,"c":0.1},{"e":10280,"c":0.22},{"e":10290,"c":0.22},{"e":10298,"c":0.1},{"e":10310,"c":0.1},{"e":10320,"c":0.22},{"e":10331,"c":0.47},{"e":10340,"c":0.22},{"e":10350,"c":0.22},{"e":10358,"c":0.1},{"e":10370,"c":0.22},{"e":10384,"c":0.22},{"e":10392,"c":0.1},{"e":10400,"c":0.22},{"e":10412,"c":0.22},{"e":10420,"c":0.1},{"e":10428,"c":0.22},{"e":10440,"c":0.22},{"e":10450,"c":0.22},{"e":10458,"c":0.1},{"e":10470,"c":0.22},{"e":10486,"c":0.22},{"e":10494,"c":0.1},{"e":10504,"c":0.22},{"e":10516,"c":0.22},{"e":10524,"c":0.1},{"e":10534,"c":0.22},{"e":10546,"c":0.22},{"e":10554,"c":0.1},{"e":10566,"c":0.22},{"e":10574,"c":0.1},{"e":10590,"c":0.1},{"e":10600,"c":0.22},{"e":10610,"c":0.22},{"e":10618,"c":0.58},{"e":10626,"c":0.1},{"e":10640,"c":0.1},{"e":10650,"c":0.22},{"e":10660,"c":0.22},{"e":10670,"c":0.1},{"e":10690,"c":0.1},{"e":10700,"c":0.22},{"e":10712,"c":0.1},{"e":10740,"c":0.1},{"e":10750,"c":0.22},{"e":10760,"c":0.22},{"e":10768,"c":0.1},{"e":10790,"c":0.1},{"e":10800,"c":0.22},{"e":10812,"c":0.22},{"e":10822,"c":0.22},{"e":10830,"c":2.36},{"e":10836,"c":0.22},{"e":10842,"c":0.22},{"e":10848,"c":0.1}
    ]},
    "mark": {"type": "line", "color": "#00ff00", "strokeWidth": 1.6, "clip": true},
    "encoding": {
      "x": {"field": "e", "type": "quantitative",
        "scale": {"domain": [-15, 11745], "nice": false, "zero": false},
        "axis": {"orient": "bottom", "values": [0, 2000, 4000, 6000, 8000, 10000], "format": "d",
          "title": "Energy (keV)", "tickSize": 14, "labelPadding": 13, "titlePadding": 11, "grid": true}},
      "y": {"field": "c", "type": "quantitative",
        "scale": {"type": "log", "domain": [0.0971, 8307], "nice": false},
        "axis": {"orient": "left",
          "values": [0.1,0.2,0.3,0.4,0.5,0.6,0.7,0.8,0.9,1,2,3,4,5,6,7,8,9,10,20,30,40,50,60,70,80,90,100,200,300,400,500,600,700,800,900,1000,2000,3000,4000,5000,6000,7000,8000],
          "labelExpr": "indexof([0.1,1,10,100,1000], datum.value) >= 0 ? format(datum.value, '~g') : ''",
          "tickSize": {"condition": {"test": "indexof([0.1,1,10,100,1000], datum.value) >= 0", "value": 16}, "value": 8},
          "gridOpacity": {"condition": {"test": "indexof([0.1,1,10,100,1000], datum.value) >= 0", "value": 1}, "value": 0},
          "title": "Counts", "labelPadding": 10, "titlePadding": 21, "grid": true}}
    }
  },
  {
    "data": {"values": [{"e": 7480, "c": 1830, "label": "PGAA"}]},
    "mark": {"type": "text", "font": "Liberation Sans", "fontSize": 60, "align": "center", "baseline": "alphabetic", "color": "black"},
    "encoding": {
      "x": {"field": "e", "type": "quantitative",
        "scale": {"domain": [-15, 11745], "nice": false, "zero": false},
        "axis": {"orient": "top", "values": [0, 2000, 4000, 6000, 8000, 10000], "labels": false, "tickSize": 14, "grid": false, "title": null}},
      "y": {"field": "c", "type": "quantitative",
        "scale": {"type": "log", "domain": [0.0971, 8307], "nice": false},
        "axis": {"orient": "right",
          "values": [0.1,0.2,0.3,0.4,0.5,0.6,0.7,0.8,0.9,1,2,3,4,5,6,7,8,9,10,20,30,40,50,60,70,80,90,100,200,300,400,500,600,700,800,900,1000,2000,3000,4000,5000,6000,7000,8000],
          "labels": false,
          "tickSize": {"condition": {"test": "indexof([0.1,1,10,100,1000], datum.value) >= 0", "value": 16}, "value": 8},
          "grid": false, "title": null}},
      "text": {"field": "label"}
    }
  },
  {
    "data": {"values": [{"x1": -1708, "x2": 12600, "y1": 0.0174, "y2": 13890}]},
    "mark": {"type": "rect", "fill": null, "fillOpacity": 0, "stroke": "#404040", "strokeWidth": 1.5, "clip": false},
    "encoding": {
      "x": {"field": "x1", "type": "quantitative", "scale": {"domain": [-15, 11745], "nice": false, "zero": false}, "axis": null},
      "x2": {"field": "x2"},
      "y": {"field": "y1", "type": "quantitative", "scale": {"type": "log", "domain": [0.0971, 8307], "nice": false}, "axis": null},
      "y2": {"field": "y2"}
    }
  }
]
}
